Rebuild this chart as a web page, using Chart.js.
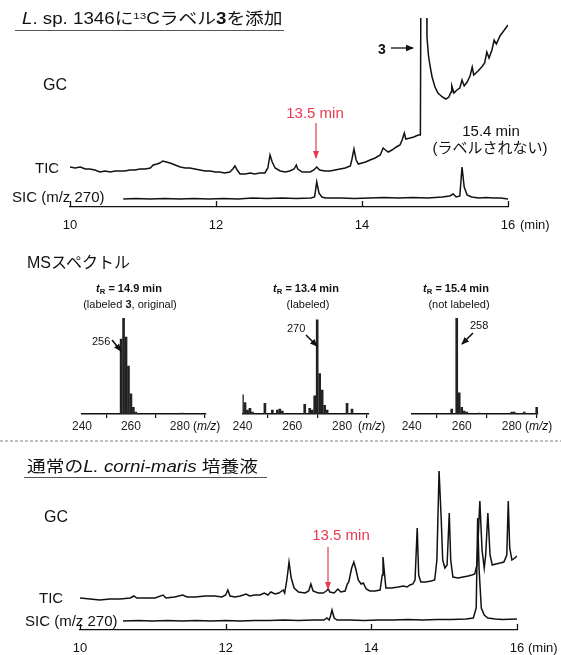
<!DOCTYPE html>
<html>
<head>
<meta charset="utf-8">
<script src="https://cdn.jsdelivr.net/npm/chart.js@4.4.1/dist/chart.umd.min.js"></script>
<style>
  body { margin: 0; background: #fff; }
  #page { position: relative; width: 561px; height: 655px; overflow: hidden;
          font-family: 'Liberation Sans', 'Noto Sans CJK JP', Arial, sans-serif; color: #111; }
  canvas { position: absolute; }
  svg { position: absolute; left: 0; top: 0; }
  .t { position: absolute; white-space: nowrap; line-height: 1; }
  .c { transform: translate(-50%, -50%); }
  .l { transform: translate(0, -50%); }
  .wide { transform: translate(0, -50%) scaleX(1.17); transform-origin: 0 50%; }
  .sup { font-size: 0.62em; position: relative; top: -0.5em; }
  .sub { font-size: 0.7em; position: relative; top: 0.3em; }
  .red { color: #e8394d; }
</style>
</head>
<body>
<div id="page">
  <canvas id="gcTop" style="left:0;top:0" width="561" height="240"></canvas>
  <canvas id="ms1" style="left:60px;top:300px" width="165" height="135"></canvas>
  <canvas id="ms2" style="left:220px;top:300px" width="165" height="135"></canvas>
  <canvas id="ms3" style="left:390px;top:300px" width="165" height="135"></canvas>
  <canvas id="gcBottom" style="left:0;top:440px" width="561" height="215"></canvas>

  <svg width="561" height="655">
    <defs>
      <marker id="ah" markerWidth="8" markerHeight="8" refX="7" refY="4" orient="auto" markerUnits="userSpaceOnUse">
        <path d="M0,0.8 L8,4 L0,7.2 Z" fill="#111"/>
      </marker>
      <marker id="ahr" markerWidth="8" markerHeight="8" refX="7" refY="4" orient="auto" markerUnits="userSpaceOnUse">
        <path d="M0,1 L8,4 L0,7 Z" fill="#e8394d"/>
      </marker>
    </defs>
    <!-- underlines and separator -->
    <line x1="15" y1="30.5" x2="284" y2="30.5" stroke="#555" stroke-width="1"/>
    <line x1="0" y1="441" x2="561" y2="441" stroke="#aaa" stroke-width="1.5" stroke-dasharray="3 2"/>
    <line x1="24" y1="477.5" x2="267" y2="477.5" stroke="#555" stroke-width="1"/>
    <!-- arrows -->
    <line x1="391" y1="48" x2="413" y2="48" stroke="#111" stroke-width="1.3" marker-end="url(#ah)"/>
    <line x1="316" y1="123" x2="316" y2="158" stroke="#e8394d" stroke-width="1.2" marker-end="url(#ahr)"/>
    <line x1="328" y1="547" x2="328" y2="589" stroke="#e8394d" stroke-width="1.2" marker-end="url(#ahr)"/>
    <line x1="112" y1="340" x2="121" y2="351" stroke="#111" stroke-width="1.6" marker-end="url(#ah)"/>
    <line x1="306" y1="335" x2="317" y2="346" stroke="#111" stroke-width="1.6" marker-end="url(#ah)"/>
    <line x1="473" y1="333" x2="462" y2="344" stroke="#111" stroke-width="1.6" marker-end="url(#ah)"/>
  </svg>

  <!-- top panel texts -->
  <div class="t wide" style="left:22px;top:19px;font-size:16px"><i>L</i>. sp. 1346に<span class="sup">13</span>Cラベル<b>3</b>を添加</div>
  <div class="t l" style="left:43px;top:85px;font-size:16px">GC</div>
  <div class="t l" style="left:35px;top:167px;font-size:15px">TIC</div>
  <div class="t l" style="left:12px;top:196px;font-size:15px">SIC (m/z 270)</div>
  <div class="t l" style="left:378px;top:49px;font-size:14px"><b>3</b></div>
  <div class="t c red" style="left:315px;top:112px;font-size:15px">13.5 min</div>
  <div class="t c" style="left:491px;top:130px;font-size:15px">15.4 min</div>
  <div class="t c" style="left:490px;top:147px;font-size:15px">(ラベルされない)</div>
  <div class="t l" style="left:520px;top:224px;font-size:13px">(min)</div>

  <!-- MS texts -->
  <div class="t l" style="left:27px;top:263px;font-size:16px">MSスペクトル</div>
  <div class="t c" style="left:129px;top:288px;font-size:11px"><b><i>t</i><span class="sub">R</span> = 14.9 min</b></div>
  <div class="t c" style="left:130px;top:304px;font-size:11px">(labeled <b>3</b>, original)</div>
  <div class="t c" style="left:306px;top:288px;font-size:11px"><b><i>t</i><span class="sub">R</span> = 13.4 min</b></div>
  <div class="t c" style="left:308px;top:304px;font-size:11px">(labeled)</div>
  <div class="t c" style="left:456px;top:288px;font-size:11px"><b><i>t</i><span class="sub">R</span> = 15.4 min</b></div>
  <div class="t c" style="left:459px;top:304px;font-size:11px">(not labeled)</div>
  <div class="t l" style="left:92px;top:341px;font-size:11px">256</div>
  <div class="t l" style="left:287px;top:328px;font-size:11px">270</div>
  <div class="t l" style="left:470px;top:325px;font-size:11px">258</div>
  <div class="t l" style="left:193px;top:426px;font-size:12px">(<i>m/z</i>)</div>
  <div class="t l" style="left:358px;top:426px;font-size:12px">(<i>m/z</i>)</div>
  <div class="t l" style="left:525px;top:426px;font-size:12px">(<i>m/z</i>)</div>

  <!-- bottom panel texts -->
  <div class="t wide" style="left:27px;top:467px;font-size:16px">通常の<i>L. corni-maris</i> 培養液</div>
  <div class="t l" style="left:44px;top:517px;font-size:16px">GC</div>
  <div class="t l" style="left:39px;top:597px;font-size:15px">TIC</div>
  <div class="t l" style="left:25px;top:620px;font-size:15px">SIC (m/z 270)</div>
  <div class="t c red" style="left:341px;top:534px;font-size:15px">13.5 min</div>
  <div class="t l" style="left:528px;top:647px;font-size:13px">(min)</div>
</div>

<script>
// GC 軸目盛 (min)
const gcTicks = [10, 12, 14, 16];
// MS 軸目盛 (m/z)
const msTicks = [240, 260, 280];

// L. sp. 1346 + 13C-3 : TIC  [time, intensity]
const topTic = [
  [10.00,40],[10.07,39],[10.14,40],[10.21,38],[10.27,38],[10.34,37],[10.41,35],[10.48,36],
  [10.55,35],[10.62,36],[10.68,36],[10.75,36],[10.82,37],[10.89,37],[10.96,38],[11.03,38],
  [11.10,39],[11.14,42],[11.19,43],[11.23,44],[11.27,46],[11.32,45],[11.37,44],[11.44,42],
  [11.51,40],[11.58,39],[11.64,39],[11.71,38],[11.78,37],[11.85,36],[11.92,36],[11.99,35],
  [12.05,35],[12.12,34],[12.19,35],[12.23,38],[12.26,41],[12.29,37],[12.33,33],[12.40,33],
  [12.47,34],[12.53,33],[12.60,34],[12.67,34],[12.71,39],[12.74,52],[12.77,45],[12.81,39],
  [12.88,36],[12.95,35],[13.01,36],[13.07,38],[13.10,42],[13.12,38],[13.18,35],[13.23,35],
  [13.29,35],[13.34,37],[13.38,40],[13.42,37],[13.49,36],[13.56,36],[13.63,37],[13.70,38],
  [13.77,39],[13.84,41],[13.86,47],[13.89,58],[13.92,47],[13.95,43],[14.00,44],[14.05,45],
  [14.11,47],[14.18,49],[14.25,52],[14.29,59],[14.32,57],[14.36,55],[14.41,57],[14.47,60],
  [14.52,62],[14.55,67],[14.58,74],[14.60,68],[14.66,69],[14.71,70],[14.77,72],[14.80,72],
  [14.81,300],[14.88,300],[14.89,170],[14.91,152],[14.93,142],[14.96,130],[15.00,120],
  [15.04,114],[15.10,110],[15.15,108],[15.19,110],[15.22,115],[15.23,121],[15.26,114],
  [15.30,117],[15.34,119],[15.37,127],[15.40,121],[15.44,125],[15.48,131],[15.51,140],
  [15.53,132],[15.59,136],[15.64,140],[15.68,144],[15.71,155],[15.74,149],[15.78,157],
  [15.81,167],[15.84,163],[15.89,171],[15.93,175],[15.97,179],[16.00,182]
];
// L. sp. 1346 + 13C-3 : SIC m/z 270
const topSic = [
  [10.73,8],[10.9,8.5],[11.1,8],[11.3,8.5],[11.5,8],[11.7,8.5],[11.9,8],[12.1,8.5],
  [12.3,8],[12.5,9],[12.7,8.5],[12.9,9],[13.1,8.5],[13.3,9],[13.35,10],[13.38,25],
  [13.41,14],[13.45,10],[13.5,9],[13.7,9],[13.9,8.5],[14.1,9],[14.3,9.5],[14.5,9],
  [14.7,9.5],[14.9,9],[15.1,10],[15.2,11],[15.25,13],[15.29,10],[15.34,11],[15.37,40],
  [15.40,20],[15.44,12],[15.5,10],[15.6,9],[15.7,9.5],[15.8,9],[15.9,9],[16.0,8]
];

// L. corni-maris : TIC
const bottomTic = [
  [10.00,32],[10.14,31],[10.27,30],[10.41,31],[10.55,31],[10.69,32],[10.74,34],[10.78,32],
  [10.89,32],[11.03,32],[11.14,35],[11.18,32],[11.30,33],[11.41,35],[11.47,33],[11.58,33],
  [11.72,34],[11.85,34],[11.95,33],[12.00,35],[12.03,40],[12.06,34],[12.13,33],[12.20,34],
  [12.28,36],[12.33,34],[12.40,35],[12.47,35],[12.53,37],[12.58,35],[12.62,38],[12.68,36],
  [12.73,37],[12.79,40],[12.81,37],[12.84,50],[12.87,68],[12.90,52],[12.94,42],[13.00,38],
  [13.09,37],[13.14,39],[13.17,46],[13.20,39],[13.27,37],[13.34,37],[13.38,39],[13.41,41],
  [13.43,38],[13.49,37],[13.54,41],[13.58,38],[13.64,39],[13.67,46],[13.69,48],[13.73,62],
  [13.76,68],[13.79,60],[13.82,50],[13.86,46],[13.89,47],[13.93,41],[13.98,39],[14.05,39],
  [14.12,40],[14.15,55],[14.16,73],[14.18,57],[14.20,42],[14.28,42],[14.37,43],[14.44,44],
  [14.49,43],[14.53,45],[14.57,46],[14.60,50],[14.63,102],[14.65,55],[14.68,48],[14.75,48],
  [14.82,49],[14.87,50],[14.90,70],[14.93,159],[14.96,110],[14.98,70],[15.01,62],[15.04,65],
  [15.07,117],[15.09,70],[15.12,53],[15.19,52],[15.26,53],[15.33,54],[15.38,55],[15.42,56],
  [15.45,65],[15.49,129],[15.52,80],[15.55,62],[15.57,75],[15.60,117],[15.63,75],[15.66,65],
  [15.71,66],[15.77,67],[15.82,68],[15.86,75],[15.88,129],[15.90,82],[15.93,70],[15.97,72],
  [16.00,74]
];
// L. corni-maris : SIC m/z 270
const bottomSic = [
  [10.59,9],[10.8,9.5],[11.0,9],[11.2,9.5],[11.4,9],[11.6,9.5],[11.8,9],[12.0,9.5],
  [12.2,9],[12.4,9.5],[12.6,9.5],[12.8,10],[13.0,9.5],[13.2,10],[13.35,10],[13.39,12],
  [13.42,10],[13.44,14],[13.46,20],[13.49,12],[13.53,10],[13.7,10],[13.9,9.5],[14.1,10],
  [14.3,10],[14.5,10.5],[14.7,10],[14.9,10.5],[15.1,10.5],[15.3,11],[15.4,12],[15.44,22],
  [15.46,112],[15.48,60],[15.51,22],[15.55,15],[15.6,12],[15.7,11],[15.8,10.5],[16.0,11]
];

// MS spectra (relative intensity, %)
const ms1Mz  = [256, 257, 258, 259, 260, 261, 262, 281];
const ms1Int = [78, 100, 80, 50, 21, 7, 2, 1];
const ms2Mz  = [240, 241, 242, 243, 244, 249, 252, 254, 255, 256, 265, 267, 268, 269, 270, 271, 272, 273, 274, 282, 284];
const ms2Int = [20, 12, 4, 6, 2, 11, 4, 4, 5, 3, 10, 6, 4, 19, 98, 42, 25, 9, 4, 11, 5];
const ms3Mz  = [256, 258, 259, 260, 261, 262, 267, 280, 281, 285, 290];
const ms3Int = [5, 100, 22, 7, 3, 2, 1, 2, 2, 2, 7];

Chart.defaults.font.family = "'Liberation Sans', Arial, sans-serif";
Chart.defaults.color = '#111';

// 目盛を軸の内側（上向き）に描く
const upTicks = {
  id: 'upTicks',
  afterDraw(chart) {
    const s = chart.scales.x;
    const ctx = chart.ctx;
    const b = chart.chartArea.bottom;
    ctx.save();
    ctx.strokeStyle = '#111';
    ctx.lineWidth = 1.3;
    s.ticks.forEach(t => {
      const x = Math.round(s.getPixelForValue(t.value)) + 0.5;
      ctx.beginPath();
      ctx.moveTo(x, b);
      ctx.lineTo(x, b - 6);
      ctx.stroke();
    });
    ctx.restore();
  }
};

function lineSet(points) {
  return {
    data: points.map(p => ({ x: p[0], y: p[1] })),
    borderColor: '#111',
    borderWidth: 1.5,
    pointRadius: 0,
    tension: 0,
    fill: false
  };
}

function makeGc(id, tic, sic, pad, axisH, yMax) {
  new Chart(document.getElementById(id), {
    type: 'line',
    data: { datasets: [lineSet(tic), lineSet(sic)] },
    plugins: [upTicks],
    options: {
      responsive: false,
      animation: false,
      layout: { padding: pad },
      plugins: { legend: { display: false }, tooltip: { enabled: false } },
      scales: {
        x: {
          type: 'linear', min: 10, max: 16,
          afterBuildTicks: s => { s.ticks = gcTicks.map(v => ({ value: v })); },
          afterFit: s => { s.height = axisH; },
          grid: { display: false },
          border: { display: true, color: '#111', width: 1.3 },
          ticks: { font: { size: 13 }, color: '#111', padding: 3, maxRotation: 0, autoSkip: false }
        },
        y: { display: false, min: 0, max: yMax }
      }
    }
  });
}

function makeMs(id, mz, inten, padL, padR) {
  new Chart(document.getElementById(id), {
    type: 'bar',
    data: {
      datasets: [{
        data: mz.map((m, i) => ({ x: m, y: inten[i] })),
        backgroundColor: '#222',
        barThickness: 2
      }]
    },
    options: {
      responsive: false,
      animation: false,
      layout: { padding: { left: padL, right: padR, top: 18, bottom: 0 } },
      plugins: { legend: { display: false }, tooltip: { enabled: false } },
      scales: {
        x: {
          type: 'linear', min: 240, max: 290.5, offset: false,
          afterBuildTicks: s => { s.ticks = msTicks.map(v => ({ value: v })); },
          afterFit: s => { s.height = 21; },
          grid: { display: true, drawOnChartArea: false, drawTicks: true, tickLength: 4, color: '#111', lineWidth: 1.2 },
          border: { display: true, color: '#111', width: 1.5 },
          ticks: { font: { size: 12 }, color: '#222', padding: 1, maxRotation: 0, autoSkip: false }
        },
        y: { display: false, min: 0, max: 100 }
      }
    }
  });
}

makeGc('gcTop', topTic, topSic, { left: 70, right: 53, top: 18, bottom: 0 }, 33, 189);
makeGc('gcBottom', bottomTic, bottomSic, { left: 80, right: 44, top: 20, bottom: 0 }, 25, 170);
makeMs('ms1', ms1Mz, ms1Int, 22, 19.5);
makeMs('ms2', ms2Mz, ms2Int, 22.5, 16.8);
makeMs('ms3', ms3Mz, ms3Int, 21.7, 17);
</script>
</body>
</html>
